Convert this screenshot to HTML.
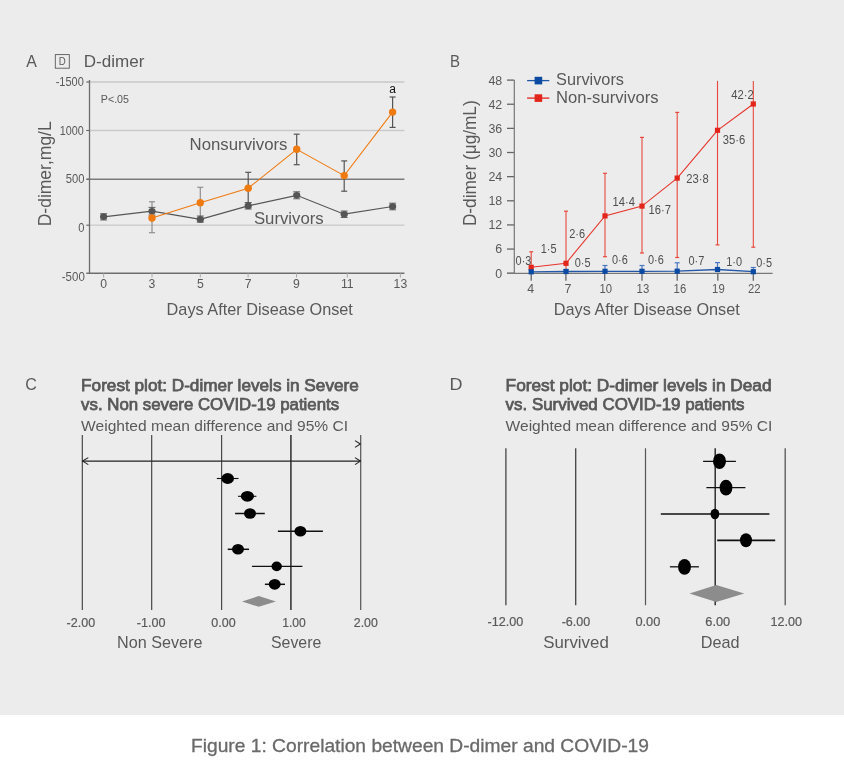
<!DOCTYPE html>
<html><head><meta charset="utf-8"><style>
html,body{margin:0;padding:0;}
body{width:844px;height:776px;overflow:hidden;background:#fff;}
svg{display:block;will-change:transform;font-family:"Liberation Sans",sans-serif;}
</style></head><body>
<svg width="844" height="776" viewBox="0 0 844 776">
<rect x="0" y="0" width="844" height="715" fill="#ececec"/>
<rect x="0" y="715" width="844" height="61" fill="#ffffff"/>
<text x="26.2" y="67.0" font-size="17.0" fill="#595959" textLength="10.6" lengthAdjust="spacingAndGlyphs">A</text>
<rect x="55.3" y="54.6" width="14" height="13.6" fill="none" stroke="#5a5a5a" stroke-width="0.9"/>
<text x="62.3" y="65.2" font-size="10.5" fill="#595959" text-anchor="middle" textLength="7" lengthAdjust="spacingAndGlyphs">D</text>
<text x="83.8" y="66.6" font-size="16.4" fill="#595959" textLength="60.6" lengthAdjust="spacingAndGlyphs">D-dimer</text>
<line x1="86.6" y1="82.0" x2="404.4" y2="82.0" stroke="#c9c9c9" stroke-width="1.3"/>
<line x1="86.3" y1="82.0" x2="89.5" y2="82.0" stroke="#666" stroke-width="1"/>
<line x1="86.6" y1="130.5" x2="404.4" y2="130.5" stroke="#c9c9c9" stroke-width="1.3"/>
<line x1="86.3" y1="130.5" x2="89.5" y2="130.5" stroke="#666" stroke-width="1"/>
<line x1="86.6" y1="179.3" x2="404.4" y2="179.3" stroke="#7a7a7a" stroke-width="1.5"/>
<line x1="86.3" y1="179.3" x2="89.5" y2="179.3" stroke="#666" stroke-width="1"/>
<line x1="86.6" y1="225.2" x2="404.4" y2="225.2" stroke="#c9c9c9" stroke-width="1.2"/>
<line x1="86.3" y1="225.2" x2="89.5" y2="225.2" stroke="#666" stroke-width="1"/>
<text x="83.8" y="85.6" font-size="12.2" fill="#595959" text-anchor="end" textLength="28.1" lengthAdjust="spacingAndGlyphs">-1500</text>
<text x="83.8" y="134.6" font-size="12.2" fill="#595959" text-anchor="end" textLength="24" lengthAdjust="spacingAndGlyphs">1000</text>
<text x="84.4" y="183.1" font-size="12.2" fill="#595959" text-anchor="end" textLength="18.7" lengthAdjust="spacingAndGlyphs">500</text>
<text x="84.4" y="231.9" font-size="12.2" fill="#595959" text-anchor="end" textLength="6.2" lengthAdjust="spacingAndGlyphs">0</text>
<text x="84.8" y="281.0" font-size="12.2" fill="#595959" text-anchor="end" textLength="23" lengthAdjust="spacingAndGlyphs">-500</text>
<line x1="89.5" y1="80.0" x2="89.5" y2="273.8" stroke="#6e6e6e" stroke-width="1.3"/>
<line x1="86.3" y1="273.2" x2="404.4" y2="273.2" stroke="#6e6e6e" stroke-width="1.5"/>
<line x1="103.6" y1="273.2" x2="103.6" y2="277.5" stroke="#aaa" stroke-width="1"/>
<text x="103.6" y="288.3" font-size="12.2" fill="#595959" text-anchor="middle">0</text>
<line x1="152" y1="273.2" x2="152" y2="277.5" stroke="#aaa" stroke-width="1"/>
<text x="152" y="288.3" font-size="12.2" fill="#595959" text-anchor="middle">3</text>
<line x1="200.3" y1="273.2" x2="200.3" y2="277.5" stroke="#aaa" stroke-width="1"/>
<text x="200.3" y="288.3" font-size="12.2" fill="#595959" text-anchor="middle">5</text>
<line x1="248.1" y1="273.2" x2="248.1" y2="277.5" stroke="#aaa" stroke-width="1"/>
<text x="248.1" y="288.3" font-size="12.2" fill="#595959" text-anchor="middle">7</text>
<line x1="296.5" y1="273.2" x2="296.5" y2="277.5" stroke="#aaa" stroke-width="1"/>
<text x="296.5" y="288.3" font-size="12.2" fill="#595959" text-anchor="middle">9</text>
<line x1="347.3" y1="273.2" x2="347.3" y2="277.5" stroke="#aaa" stroke-width="1"/>
<text x="347.3" y="288.3" font-size="12.2" fill="#595959" text-anchor="middle">11</text>
<line x1="400.4" y1="273.2" x2="400.4" y2="277.5" stroke="#aaa" stroke-width="1"/>
<text x="400.4" y="288.3" font-size="12.2" fill="#595959" text-anchor="middle">13</text>
<text x="100.8" y="103.0" font-size="11.5" fill="#595959" textLength="28.2" lengthAdjust="spacingAndGlyphs">P&lt;.05</text>
<text x="166.6" y="314.9" font-size="17.0" fill="#595959" textLength="186.3" lengthAdjust="spacingAndGlyphs">Days After Disease Onset</text>
<text x="0" y="0" font-size="18.9" fill="#595959" textLength="105" lengthAdjust="spacingAndGlyphs" transform="translate(51.1,226.3) rotate(-90)">D-dimer,mg/L</text>
<text x="189.5" y="149.8" font-size="16.6" fill="#595959" textLength="98.0" lengthAdjust="spacingAndGlyphs">Nonsurvivors</text>
<text x="253.9" y="223.6" font-size="16.6" fill="#595959" textLength="69.8" lengthAdjust="spacingAndGlyphs">Survivors</text>
<text x="392.6" y="93.0" font-size="12" fill="#111" text-anchor="middle">a</text>
<line x1="152" y1="201.8" x2="152" y2="232.7" stroke="#8f8f8f" stroke-width="1.2"/>
<line x1="149" y1="201.8" x2="155" y2="201.8" stroke="#8f8f8f" stroke-width="1.2"/>
<line x1="149" y1="232.7" x2="155" y2="232.7" stroke="#8f8f8f" stroke-width="1.2"/>
<line x1="200.3" y1="187.3" x2="200.3" y2="219" stroke="#8f8f8f" stroke-width="1.2"/>
<line x1="197.3" y1="187.3" x2="203.3" y2="187.3" stroke="#8f8f8f" stroke-width="1.2"/>
<line x1="197.3" y1="219" x2="203.3" y2="219" stroke="#8f8f8f" stroke-width="1.2"/>
<line x1="248.2" y1="172.3" x2="248.2" y2="205" stroke="#555" stroke-width="1.2"/>
<line x1="245.2" y1="172.3" x2="251.2" y2="172.3" stroke="#555" stroke-width="1.2"/>
<line x1="245.2" y1="205" x2="251.2" y2="205" stroke="#555" stroke-width="1.2"/>
<line x1="296.7" y1="134.2" x2="296.7" y2="164.7" stroke="#555" stroke-width="1.2"/>
<line x1="293.7" y1="134.2" x2="299.7" y2="134.2" stroke="#555" stroke-width="1.2"/>
<line x1="293.7" y1="164.7" x2="299.7" y2="164.7" stroke="#555" stroke-width="1.2"/>
<line x1="344.2" y1="160.9" x2="344.2" y2="191.2" stroke="#555" stroke-width="1.2"/>
<line x1="341.2" y1="160.9" x2="347.2" y2="160.9" stroke="#555" stroke-width="1.2"/>
<line x1="341.2" y1="191.2" x2="347.2" y2="191.2" stroke="#555" stroke-width="1.2"/>
<line x1="392.6" y1="97" x2="392.6" y2="127.4" stroke="#555" stroke-width="1.2"/>
<line x1="389.6" y1="97" x2="395.6" y2="97" stroke="#555" stroke-width="1.2"/>
<line x1="389.6" y1="127.4" x2="395.6" y2="127.4" stroke="#555" stroke-width="1.2"/>
<line x1="103.6" y1="213.7" x2="103.6" y2="220.0" stroke="#555" stroke-width="1.2"/>
<line x1="100.1" y1="213.7" x2="107.1" y2="213.7" stroke="#555" stroke-width="0.9"/>
<line x1="100.1" y1="220.0" x2="107.1" y2="220.0" stroke="#555" stroke-width="0.9"/>
<line x1="152" y1="207.4" x2="152" y2="215" stroke="#555" stroke-width="1.2"/>
<line x1="148.5" y1="207.4" x2="155.5" y2="207.4" stroke="#555" stroke-width="0.9"/>
<line x1="148.5" y1="215" x2="155.5" y2="215" stroke="#555" stroke-width="0.9"/>
<line x1="200.3" y1="216" x2="200.3" y2="222.2" stroke="#555" stroke-width="1.2"/>
<line x1="196.8" y1="216" x2="203.8" y2="216" stroke="#555" stroke-width="0.9"/>
<line x1="196.8" y1="222.2" x2="203.8" y2="222.2" stroke="#555" stroke-width="0.9"/>
<line x1="248.2" y1="202.5" x2="248.2" y2="209" stroke="#555" stroke-width="1.2"/>
<line x1="244.7" y1="202.5" x2="251.7" y2="202.5" stroke="#555" stroke-width="0.9"/>
<line x1="244.7" y1="209" x2="251.7" y2="209" stroke="#555" stroke-width="0.9"/>
<line x1="296.7" y1="191.8" x2="296.7" y2="198.8" stroke="#555" stroke-width="1.2"/>
<line x1="293.2" y1="191.8" x2="300.2" y2="191.8" stroke="#555" stroke-width="0.9"/>
<line x1="293.2" y1="198.8" x2="300.2" y2="198.8" stroke="#555" stroke-width="0.9"/>
<line x1="344.2" y1="211" x2="344.2" y2="217.5" stroke="#555" stroke-width="1.2"/>
<line x1="340.7" y1="211" x2="347.7" y2="211" stroke="#555" stroke-width="0.9"/>
<line x1="340.7" y1="217.5" x2="347.7" y2="217.5" stroke="#555" stroke-width="0.9"/>
<line x1="392.6" y1="203.2" x2="392.6" y2="209.8" stroke="#555" stroke-width="1.2"/>
<line x1="389.1" y1="203.2" x2="396.1" y2="203.2" stroke="#555" stroke-width="0.9"/>
<line x1="389.1" y1="209.8" x2="396.1" y2="209.8" stroke="#555" stroke-width="0.9"/>
<polyline fill="none" stroke="#555" stroke-width="1.2" points="103.6,216.8 152,211.2 200.3,219.4 248.2,205.9 296.7,195.3 344.2,214.2 392.6,206.5"/>
<ellipse cx="103.6" cy="216.8" rx="3.6" ry="3.3" fill="#555"/>
<ellipse cx="152" cy="211.2" rx="3.6" ry="3.3" fill="#555"/>
<ellipse cx="200.3" cy="219.4" rx="3.6" ry="3.3" fill="#555"/>
<ellipse cx="248.2" cy="205.9" rx="3.6" ry="3.3" fill="#555"/>
<ellipse cx="296.7" cy="195.3" rx="3.6" ry="3.3" fill="#555"/>
<ellipse cx="344.2" cy="214.2" rx="3.6" ry="3.3" fill="#555"/>
<ellipse cx="392.6" cy="206.5" rx="3.6" ry="3.3" fill="#555"/>
<polyline fill="none" stroke="#ef7a10" stroke-width="1.05" points="152,218 200.3,202.8 248.2,188.2 296.7,149.3 344.2,175.6 392.6,112.1"/>
<circle cx="152" cy="218" r="3.7" fill="#ef7a10"/>
<circle cx="200.3" cy="202.8" r="3.7" fill="#ef7a10"/>
<circle cx="248.2" cy="188.2" r="3.7" fill="#ef7a10"/>
<circle cx="296.7" cy="149.3" r="3.7" fill="#ef7a10"/>
<circle cx="344.2" cy="175.6" r="3.7" fill="#ef7a10"/>
<circle cx="392.6" cy="112.1" r="3.7" fill="#ef7a10"/>
<text x="449.9" y="67.0" font-size="17.4" fill="#595959" textLength="10.0" lengthAdjust="spacingAndGlyphs">B</text>
<line x1="507.0" y1="273.2" x2="514.3" y2="273.2" stroke="#666" stroke-width="1.3"/>
<text x="502.2" y="277.59999999999997" font-size="12.4" fill="#595959" text-anchor="end">0</text>
<line x1="507.0" y1="249.0625" x2="514.3" y2="249.0625" stroke="#666" stroke-width="1.3"/>
<text x="502.2" y="253.4625" font-size="12.4" fill="#595959" text-anchor="end">6</text>
<line x1="507.0" y1="224.925" x2="514.3" y2="224.925" stroke="#666" stroke-width="1.3"/>
<text x="502.2" y="229.32500000000002" font-size="12.4" fill="#595959" text-anchor="end">12</text>
<line x1="507.0" y1="200.7875" x2="514.3" y2="200.7875" stroke="#666" stroke-width="1.3"/>
<text x="502.2" y="205.1875" font-size="12.4" fill="#595959" text-anchor="end">18</text>
<line x1="507.0" y1="176.65" x2="514.3" y2="176.65" stroke="#666" stroke-width="1.3"/>
<text x="502.2" y="181.05" font-size="12.4" fill="#595959" text-anchor="end">24</text>
<line x1="507.0" y1="152.5125" x2="514.3" y2="152.5125" stroke="#666" stroke-width="1.3"/>
<text x="502.2" y="156.9125" font-size="12.4" fill="#595959" text-anchor="end">30</text>
<line x1="507.0" y1="128.375" x2="514.3" y2="128.375" stroke="#666" stroke-width="1.3"/>
<text x="502.2" y="132.775" font-size="12.4" fill="#595959" text-anchor="end">36</text>
<line x1="507.0" y1="104.23750000000001" x2="514.3" y2="104.23750000000001" stroke="#666" stroke-width="1.3"/>
<text x="502.2" y="108.63750000000002" font-size="12.4" fill="#595959" text-anchor="end">42</text>
<line x1="507.0" y1="80.10000000000002" x2="514.3" y2="80.10000000000002" stroke="#666" stroke-width="1.3"/>
<text x="502.2" y="84.50000000000003" font-size="12.4" fill="#595959" text-anchor="end">48</text>
<line x1="514.3" y1="80.1" x2="514.3" y2="273.8" stroke="#777" stroke-width="1.2"/>
<line x1="507.0" y1="273.4" x2="772.6" y2="273.4" stroke="#777" stroke-width="1.3"/>
<line x1="531.2" y1="273.2" x2="531.2" y2="280.8" stroke="#666" stroke-width="1.3"/>
<text x="530.6" y="293.1" font-size="12.4" fill="#595959" text-anchor="middle">4</text>
<line x1="565.9" y1="273.2" x2="565.9" y2="280.8" stroke="#666" stroke-width="1.3"/>
<text x="567.9" y="293.1" font-size="12.4" fill="#595959" text-anchor="middle">7</text>
<line x1="604.7" y1="273.2" x2="604.7" y2="280.8" stroke="#666" stroke-width="1.3"/>
<text x="605.8" y="293.1" font-size="12.4" fill="#595959" text-anchor="middle" textLength="12.6" lengthAdjust="spacingAndGlyphs">10</text>
<line x1="642" y1="273.2" x2="642" y2="280.8" stroke="#666" stroke-width="1.3"/>
<text x="642.9" y="293.1" font-size="12.4" fill="#595959" text-anchor="middle" textLength="12.6" lengthAdjust="spacingAndGlyphs">13</text>
<line x1="677.2" y1="273.2" x2="677.2" y2="280.8" stroke="#666" stroke-width="1.3"/>
<text x="679.9" y="293.1" font-size="12.4" fill="#595959" text-anchor="middle" textLength="12.6" lengthAdjust="spacingAndGlyphs">16</text>
<line x1="717.8" y1="273.2" x2="717.8" y2="280.8" stroke="#666" stroke-width="1.3"/>
<text x="718.4" y="293.1" font-size="12.4" fill="#595959" text-anchor="middle" textLength="12.6" lengthAdjust="spacingAndGlyphs">19</text>
<line x1="753.3" y1="273.2" x2="753.3" y2="280.8" stroke="#666" stroke-width="1.3"/>
<text x="754.2" y="293.1" font-size="12.4" fill="#595959" text-anchor="middle" textLength="12.6" lengthAdjust="spacingAndGlyphs">22</text>
<text x="553.8" y="314.9" font-size="17.0" fill="#595959" textLength="186.0" lengthAdjust="spacingAndGlyphs">Days After Disease Onset</text>
<text x="0" y="0" font-size="18.9" fill="#595959" textLength="125.8" lengthAdjust="spacingAndGlyphs" transform="translate(475.7,226.1) rotate(-90)">D-dimer (μg/mL)</text>
<line x1="527.1" y1="80.6" x2="549.3" y2="80.6" stroke="#1d55a8" stroke-width="1.3"/>
<rect x="534.6" y="76.8" width="7.6" height="7.6" fill="#0b4aa2"/>
<line x1="527.1" y1="98.1" x2="549.3" y2="98.1" stroke="#e3261b" stroke-width="1.3"/>
<rect x="534.6" y="94.3" width="7.6" height="7.6" fill="#e3261b"/>
<text x="556.1" y="84.9" font-size="16.2" fill="#595959" textLength="67.9" lengthAdjust="spacingAndGlyphs">Survivors</text>
<text x="556.1" y="102.9" font-size="16.2" fill="#595959" textLength="102.5" lengthAdjust="spacingAndGlyphs">Non-survivors</text>
<line x1="531.2" y1="251.8" x2="531.2" y2="273" stroke="#e8483d" stroke-width="1.1"/>
<line x1="529.2" y1="251.8" x2="533.2" y2="251.8" stroke="#e8483d" stroke-width="1.2"/>
<line x1="529.2" y1="273" x2="533.2" y2="273" stroke="#e8483d" stroke-width="1.2"/>
<line x1="566" y1="211.2" x2="566" y2="273" stroke="#e8483d" stroke-width="1.1"/>
<line x1="564" y1="211.2" x2="568" y2="211.2" stroke="#e8483d" stroke-width="1.2"/>
<line x1="564" y1="273" x2="568" y2="273" stroke="#e8483d" stroke-width="1.2"/>
<line x1="605" y1="173.3" x2="605" y2="256.7" stroke="#e8483d" stroke-width="1.1"/>
<line x1="603" y1="173.3" x2="607" y2="173.3" stroke="#e8483d" stroke-width="1.2"/>
<line x1="603" y1="256.7" x2="607" y2="256.7" stroke="#e8483d" stroke-width="1.2"/>
<line x1="642" y1="137.4" x2="642" y2="253" stroke="#e8483d" stroke-width="1.1"/>
<line x1="640" y1="137.4" x2="644" y2="137.4" stroke="#e8483d" stroke-width="1.2"/>
<line x1="640" y1="253" x2="644" y2="253" stroke="#e8483d" stroke-width="1.2"/>
<line x1="677.2" y1="112.4" x2="677.2" y2="257.5" stroke="#e8483d" stroke-width="1.1"/>
<line x1="675.2" y1="112.4" x2="679.2" y2="112.4" stroke="#e8483d" stroke-width="1.2"/>
<line x1="675.2" y1="257.5" x2="679.2" y2="257.5" stroke="#e8483d" stroke-width="1.2"/>
<line x1="717.5" y1="80.9" x2="717.5" y2="244.9" stroke="#e8483d" stroke-width="1.1"/>
<line x1="715.5" y1="244.9" x2="719.5" y2="244.9" stroke="#e8483d" stroke-width="1.2"/>
<line x1="753.3" y1="80.9" x2="753.3" y2="247.2" stroke="#e8483d" stroke-width="1.1"/>
<line x1="751.3" y1="247.2" x2="755.3" y2="247.2" stroke="#e8483d" stroke-width="1.2"/>
<line x1="531.2" y1="270" x2="531.2" y2="271.8" stroke="#4a78c0" stroke-width="1.2"/>
<line x1="528.7" y1="270" x2="533.7" y2="270" stroke="#4a78c0" stroke-width="1.2"/>
<line x1="566" y1="269.5" x2="566" y2="271.5" stroke="#4a78c0" stroke-width="1.2"/>
<line x1="563.5" y1="269.5" x2="568.5" y2="269.5" stroke="#4a78c0" stroke-width="1.2"/>
<line x1="605" y1="265.5" x2="605" y2="271.3" stroke="#4a78c0" stroke-width="1.2"/>
<line x1="602.5" y1="265.5" x2="607.5" y2="265.5" stroke="#4a78c0" stroke-width="1.2"/>
<line x1="642" y1="265.5" x2="642" y2="271.3" stroke="#4a78c0" stroke-width="1.2"/>
<line x1="639.5" y1="265.5" x2="644.5" y2="265.5" stroke="#4a78c0" stroke-width="1.2"/>
<line x1="677.2" y1="262.8" x2="677.2" y2="271.2" stroke="#4a78c0" stroke-width="1.2"/>
<line x1="674.7" y1="262.8" x2="679.7" y2="262.8" stroke="#4a78c0" stroke-width="1.2"/>
<line x1="717.5" y1="262.6" x2="717.5" y2="269.5" stroke="#4a78c0" stroke-width="1.2"/>
<line x1="715.0" y1="262.6" x2="720.0" y2="262.6" stroke="#4a78c0" stroke-width="1.2"/>
<line x1="753.3" y1="267.5" x2="753.3" y2="271.7" stroke="#4a78c0" stroke-width="1.2"/>
<line x1="750.8" y1="267.5" x2="755.8" y2="267.5" stroke="#4a78c0" stroke-width="1.2"/>
<polyline fill="none" stroke="#e5352a" stroke-width="1.1" points="531.2,267.3 566,263.3 605,215.9 642,206.1 677.2,178.1 717.5,130.3 753.3,104"/>
<rect x="528.6" y="264.7" width="5.2" height="5.2" fill="#e3261b"/>
<rect x="563.4" y="260.7" width="5.2" height="5.2" fill="#e3261b"/>
<rect x="602.4" y="213.3" width="5.2" height="5.2" fill="#e3261b"/>
<rect x="639.4" y="203.5" width="5.2" height="5.2" fill="#e3261b"/>
<rect x="674.6" y="175.5" width="5.2" height="5.2" fill="#e3261b"/>
<rect x="714.9" y="127.70000000000002" width="5.2" height="5.2" fill="#e3261b"/>
<rect x="750.6999999999999" y="101.4" width="5.2" height="5.2" fill="#e3261b"/>
<polyline fill="none" stroke="#2457a8" stroke-width="1.3" points="531.2,271.8 566,271.5 605,271.3 642,271.3 677.2,271.2 717.5,269.5 753.3,271.7"/>
<rect x="528.6" y="269.2" width="5.2" height="5.2" fill="#0b4aa2"/>
<rect x="563.4" y="268.9" width="5.2" height="5.2" fill="#0b4aa2"/>
<rect x="602.4" y="268.7" width="5.2" height="5.2" fill="#0b4aa2"/>
<rect x="639.4" y="268.7" width="5.2" height="5.2" fill="#0b4aa2"/>
<rect x="674.6" y="268.59999999999997" width="5.2" height="5.2" fill="#0b4aa2"/>
<rect x="714.9" y="266.9" width="5.2" height="5.2" fill="#0b4aa2"/>
<rect x="750.6999999999999" y="269.09999999999997" width="5.2" height="5.2" fill="#0b4aa2"/>
<text x="515.6" y="265" font-size="12.5" fill="#4f4f4f" textLength="15.8" lengthAdjust="spacingAndGlyphs">0·3</text>
<text x="540.7" y="252.7" font-size="12.5" fill="#4f4f4f" textLength="15.8" lengthAdjust="spacingAndGlyphs">1·5</text>
<text x="569.3" y="238.1" font-size="12.5" fill="#4f4f4f" textLength="15.8" lengthAdjust="spacingAndGlyphs">2·6</text>
<text x="574.8" y="267.3" font-size="12.5" fill="#4f4f4f" textLength="15.8" lengthAdjust="spacingAndGlyphs">0·5</text>
<text x="612.4" y="205.5" font-size="12.5" fill="#4f4f4f" textLength="22.5" lengthAdjust="spacingAndGlyphs">14·4</text>
<text x="612" y="264" font-size="12.5" fill="#4f4f4f" textLength="15.8" lengthAdjust="spacingAndGlyphs">0·6</text>
<text x="648.4" y="214" font-size="12.5" fill="#4f4f4f" textLength="22.5" lengthAdjust="spacingAndGlyphs">16·7</text>
<text x="648" y="264" font-size="12.5" fill="#4f4f4f" textLength="15.8" lengthAdjust="spacingAndGlyphs">0·6</text>
<text x="686.3" y="183.3" font-size="12.5" fill="#4f4f4f" textLength="22.5" lengthAdjust="spacingAndGlyphs">23·8</text>
<text x="688.5" y="265" font-size="12.5" fill="#4f4f4f" textLength="15.8" lengthAdjust="spacingAndGlyphs">0·7</text>
<text x="722.8" y="143.7" font-size="12.5" fill="#4f4f4f" textLength="22.5" lengthAdjust="spacingAndGlyphs">35·6</text>
<text x="726.2" y="266.2" font-size="12.5" fill="#4f4f4f" textLength="15.8" lengthAdjust="spacingAndGlyphs">1·0</text>
<text x="731.2" y="99.3" font-size="12.5" fill="#4f4f4f" textLength="22.5" lengthAdjust="spacingAndGlyphs">42·2</text>
<text x="756.3" y="267" font-size="12.5" fill="#4f4f4f" textLength="15.8" lengthAdjust="spacingAndGlyphs">0·5</text>
<text x="25.2" y="390.0" font-size="17.4" fill="#595959" textLength="11.6" lengthAdjust="spacingAndGlyphs">C</text>
<text x="81.1" y="390.9" font-size="16.6" fill="#595959" stroke="#595959" stroke-width="0.75" textLength="277.7" lengthAdjust="spacingAndGlyphs">Forest plot: D-dimer levels in Severe</text>
<text x="81.1" y="409.8" font-size="16.6" fill="#595959" stroke="#595959" stroke-width="0.75" textLength="258" lengthAdjust="spacingAndGlyphs">vs. Non severe COVID-19 patients</text>
<text x="81.1" y="430.7" font-size="15.0" fill="#595959" textLength="267" lengthAdjust="spacingAndGlyphs">Weighted mean difference and 95% CI</text>
<line x1="82.3" y1="435.1" x2="82.3" y2="610" stroke="#3a3a3a" stroke-width="1.1"/>
<line x1="151.7" y1="435.1" x2="151.7" y2="610" stroke="#3a3a3a" stroke-width="1.1"/>
<line x1="221.6" y1="435.1" x2="221.6" y2="610" stroke="#4a4a4a" stroke-width="1.2"/>
<line x1="290.9" y1="435.1" x2="290.9" y2="610" stroke="#444" stroke-width="1.7"/>
<line x1="360.7" y1="435.1" x2="360.7" y2="610" stroke="#555" stroke-width="1.2"/>
<line x1="82.3" y1="461.1" x2="360.7" y2="461.1" stroke="#222" stroke-width="1.3"/>
<polyline fill="none" stroke="#222" stroke-width="1.1" points="88.3,457.6 82.6,461.1 88.3,464.6"/>
<polyline fill="none" stroke="#222" stroke-width="1.1" points="355,457.6 360.4,461.1 355,464.6"/>
<polyline fill="none" stroke="#222" stroke-width="1.1" points="355,440.6 360.4,444 355,447.4"/>
<line x1="216.8" y1="478.5" x2="238.5" y2="478.5" stroke="#111" stroke-width="1.1"/>
<ellipse cx="227.7" cy="478.5" rx="6.3" ry="5.4" fill="#000"/>
<line x1="238" y1="496.3" x2="256.4" y2="496.3" stroke="#111" stroke-width="1.1"/>
<ellipse cx="247.4" cy="496.3" rx="6.6" ry="5.4" fill="#000"/>
<line x1="235.1" y1="513.5" x2="264.8" y2="513.5" stroke="#111" stroke-width="1.5"/>
<ellipse cx="250" cy="513.5" rx="6" ry="5.2" fill="#000"/>
<line x1="277.9" y1="531.2" x2="322.9" y2="531.2" stroke="#111" stroke-width="1.5"/>
<ellipse cx="300.4" cy="531.2" rx="6" ry="5.2" fill="#000"/>
<line x1="227.7" y1="549.3" x2="249" y2="549.3" stroke="#111" stroke-width="1.5"/>
<ellipse cx="238" cy="549.3" rx="6" ry="5.2" fill="#000"/>
<line x1="251.9" y1="566.4" x2="302.4" y2="566.4" stroke="#111" stroke-width="1.1"/>
<ellipse cx="276.7" cy="566.4" rx="5.2" ry="4.8" fill="#000"/>
<line x1="264.9" y1="584.3" x2="285" y2="584.3" stroke="#111" stroke-width="1.5"/>
<ellipse cx="274.7" cy="584.3" rx="6" ry="5.4" fill="#000"/>
<polygon fill="#8c8c8c" points="242.1,601.4 258.8,596 275.9,601.4 258.8,606.8"/>
<text x="80.85" y="627.1" font-size="13" fill="#595959" text-anchor="middle" stroke="#595959" stroke-width="0.2" textLength="28.5" lengthAdjust="spacingAndGlyphs">-2.00</text>
<text x="151.2" y="627.1" font-size="13" fill="#595959" text-anchor="middle" stroke="#595959" stroke-width="0.2" textLength="28.8" lengthAdjust="spacingAndGlyphs">-1.00</text>
<text x="223.45" y="627.1" font-size="13" fill="#595959" text-anchor="middle" stroke="#595959" stroke-width="0.2" textLength="24.3" lengthAdjust="spacingAndGlyphs">0.00</text>
<text x="294" y="627.1" font-size="13" fill="#595959" text-anchor="middle" stroke="#595959" stroke-width="0.2" textLength="23.6" lengthAdjust="spacingAndGlyphs">1.00</text>
<text x="365.8" y="627.1" font-size="13" fill="#595959" text-anchor="middle" stroke="#595959" stroke-width="0.2" textLength="24" lengthAdjust="spacingAndGlyphs">2.00</text>
<text x="117.0" y="648.1" font-size="16.6" fill="#595959" textLength="85.5" lengthAdjust="spacingAndGlyphs">Non Severe</text>
<text x="271.0" y="648.1" font-size="16.6" fill="#595959" textLength="50.3" lengthAdjust="spacingAndGlyphs">Severe</text>
<text x="449.6" y="390.0" font-size="17.4" fill="#595959" textLength="13.0" lengthAdjust="spacingAndGlyphs">D</text>
<text x="505.6" y="390.9" font-size="16.6" fill="#595959" stroke="#595959" stroke-width="0.75" textLength="266" lengthAdjust="spacingAndGlyphs">Forest plot: D-dimer levels in Dead</text>
<text x="505.6" y="409.8" font-size="16.6" fill="#595959" stroke="#595959" stroke-width="0.75" textLength="238.8" lengthAdjust="spacingAndGlyphs">vs. Survived COVID-19 patients</text>
<text x="505.6" y="430.7" font-size="15.0" fill="#595959" textLength="266.8" lengthAdjust="spacingAndGlyphs">Weighted mean difference and 95% CI</text>
<line x1="505.9" y1="448.3" x2="505.9" y2="605.2" stroke="#444" stroke-width="1.3"/>
<line x1="575.7" y1="448.3" x2="575.7" y2="605.2" stroke="#444" stroke-width="1.3"/>
<line x1="645.5" y1="448.3" x2="645.5" y2="605.2" stroke="#555" stroke-width="1.2"/>
<line x1="715.2" y1="448.3" x2="715.2" y2="605.2" stroke="#222" stroke-width="1.4"/>
<line x1="785.2" y1="448.3" x2="785.2" y2="605.2" stroke="#555" stroke-width="1.3"/>
<line x1="703.1" y1="461.3" x2="735.9" y2="461.3" stroke="#111" stroke-width="1.3"/>
<ellipse cx="719.5" cy="461.3" rx="6.5" ry="7.7" fill="#000"/>
<line x1="706.4" y1="487.7" x2="745.4" y2="487.7" stroke="#111" stroke-width="1.3"/>
<ellipse cx="726" cy="487.7" rx="6.4" ry="7.9" fill="#000"/>
<line x1="660.8" y1="514" x2="769.4" y2="514" stroke="#111" stroke-width="1.6"/>
<ellipse cx="714.9" cy="514" rx="4.4" ry="5.2" fill="#000"/>
<line x1="717.2" y1="540.3" x2="775.2" y2="540.3" stroke="#111" stroke-width="1.8"/>
<ellipse cx="746" cy="540.3" rx="6" ry="7" fill="#000"/>
<line x1="669.9" y1="566.8" x2="698.9" y2="566.8" stroke="#111" stroke-width="1.3"/>
<ellipse cx="684.5" cy="566.8" rx="6.5" ry="7.9" fill="#000"/>
<polygon fill="#8c8c8c" points="689.5,593.5 716.3,585 744.2,593.5 716.3,602.1"/>
<text x="505.4" y="626.0" font-size="13" fill="#595959" text-anchor="middle" stroke="#595959" stroke-width="0.2" textLength="35.8" lengthAdjust="spacingAndGlyphs">-12.00</text>
<text x="576" y="626.0" font-size="13" fill="#595959" text-anchor="middle" stroke="#595959" stroke-width="0.2" textLength="28.6" lengthAdjust="spacingAndGlyphs">-6.00</text>
<text x="647.85" y="626.0" font-size="13" fill="#595959" text-anchor="middle" stroke="#595959" stroke-width="0.2" textLength="24.9" lengthAdjust="spacingAndGlyphs">0.00</text>
<text x="717.75" y="626.0" font-size="13" fill="#595959" text-anchor="middle" stroke="#595959" stroke-width="0.2" textLength="24.9" lengthAdjust="spacingAndGlyphs">6.00</text>
<text x="786.25" y="626.0" font-size="13" fill="#595959" text-anchor="middle" stroke="#595959" stroke-width="0.2" textLength="31.5" lengthAdjust="spacingAndGlyphs">12.00</text>
<text x="543.2" y="648.1" font-size="16.6" fill="#595959" textLength="65.6" lengthAdjust="spacingAndGlyphs">Survived</text>
<text x="700.8" y="648.1" font-size="16.6" fill="#595959" textLength="38.8" lengthAdjust="spacingAndGlyphs">Dead</text>
<text x="191.0" y="751.7" font-size="18.5" fill="#696969" stroke="#696969" stroke-width="0.3" textLength="457.9" lengthAdjust="spacingAndGlyphs">Figure 1: Correlation between D-dimer and COVID-19</text>
</svg>
</body></html>
